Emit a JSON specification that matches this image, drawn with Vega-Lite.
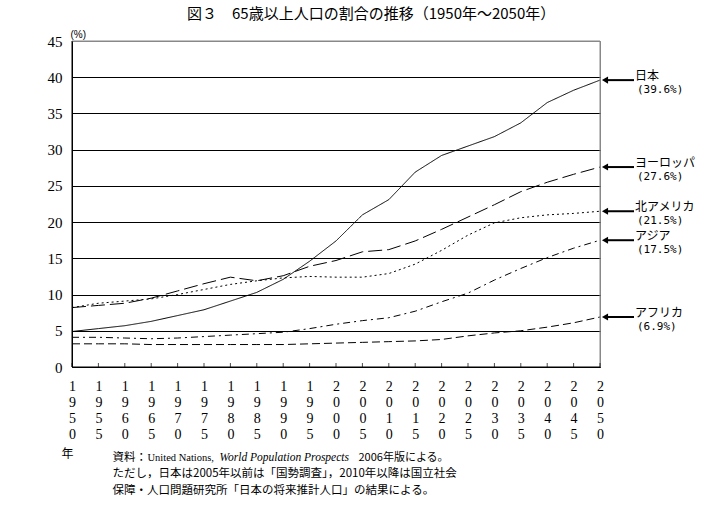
{
  "$schema": "https://vega.github.io/schema/vega-lite/v6.json",
  "width": 528,
  "height": 326,
  "autosize": {"type": "none"},
  "padding": {"left": 72, "top": 41, "right": 111, "bottom": 144},
  "background": "white",
  "config": {"view": {"stroke": "#888888", "strokeWidth": 1}, "font": "Noto Sans CJK JP"},
  "title": {"text": "図３　65歳以上人口の割合の推移（1950年～2050年）", "anchor": "start", "frame": "group", "dx": 115, "fontSize": 15, "fontWeight": "normal", "font": "Noto Sans CJK JP", "offset": 7, "color": "black"},
  "datasets": {
    "series": [
      {"region": "日本", "year": 1950, "value": 4.9}, {"region": "日本", "year": 1955, "value": 5.3}, {"region": "日本", "year": 1960, "value": 5.7}, {"region": "日本", "year": 1965, "value": 6.3}, {"region": "日本", "year": 1970, "value": 7.1}, {"region": "日本", "year": 1975, "value": 7.9}, {"region": "日本", "year": 1980, "value": 9.1}, {"region": "日本", "year": 1985, "value": 10.3}, {"region": "日本", "year": 1990, "value": 12.1}, {"region": "日本", "year": 1995, "value": 14.6}, {"region": "日本", "year": 2000, "value": 17.4}, {"region": "日本", "year": 2005, "value": 21.0}, {"region": "日本", "year": 2010, "value": 23.1}, {"region": "日本", "year": 2015, "value": 26.9}, {"region": "日本", "year": 2020, "value": 29.2}, {"region": "日本", "year": 2025, "value": 30.5}, {"region": "日本", "year": 2030, "value": 31.8}, {"region": "日本", "year": 2035, "value": 33.7}, {"region": "日本", "year": 2040, "value": 36.5}, {"region": "日本", "year": 2045, "value": 38.2}, {"region": "日本", "year": 2050, "value": 39.6},
      {"region": "ヨーロッパ", "year": 1950, "value": 8.2}, {"region": "ヨーロッパ", "year": 1955, "value": 8.5}, {"region": "ヨーロッパ", "year": 1960, "value": 8.8}, {"region": "ヨーロッパ", "year": 1965, "value": 9.5}, {"region": "ヨーロッパ", "year": 1970, "value": 10.5}, {"region": "ヨーロッパ", "year": 1975, "value": 11.5}, {"region": "ヨーロッパ", "year": 1980, "value": 12.4}, {"region": "ヨーロッパ", "year": 1985, "value": 11.9}, {"region": "ヨーロッパ", "year": 1990, "value": 12.6}, {"region": "ヨーロッパ", "year": 1995, "value": 13.9}, {"region": "ヨーロッパ", "year": 2000, "value": 14.7}, {"region": "ヨーロッパ", "year": 2005, "value": 15.9}, {"region": "ヨーロッパ", "year": 2010, "value": 16.2}, {"region": "ヨーロッパ", "year": 2015, "value": 17.4}, {"region": "ヨーロッパ", "year": 2020, "value": 19.0}, {"region": "ヨーロッパ", "year": 2025, "value": 20.7}, {"region": "ヨーロッパ", "year": 2030, "value": 22.4}, {"region": "ヨーロッパ", "year": 2035, "value": 24.2}, {"region": "ヨーロッパ", "year": 2040, "value": 25.5}, {"region": "ヨーロッパ", "year": 2045, "value": 26.6}, {"region": "ヨーロッパ", "year": 2050, "value": 27.6},
      {"region": "北アメリカ", "year": 1950, "value": 8.2}, {"region": "北アメリカ", "year": 1955, "value": 8.8}, {"region": "北アメリカ", "year": 1960, "value": 9.1}, {"region": "北アメリカ", "year": 1965, "value": 9.4}, {"region": "北アメリカ", "year": 1970, "value": 10.0}, {"region": "北アメリカ", "year": 1975, "value": 10.7}, {"region": "北アメリカ", "year": 1980, "value": 11.4}, {"region": "北アメリカ", "year": 1985, "value": 11.9}, {"region": "北アメリカ", "year": 1990, "value": 12.3}, {"region": "北アメリカ", "year": 1995, "value": 12.5}, {"region": "北アメリカ", "year": 2000, "value": 12.4}, {"region": "北アメリカ", "year": 2005, "value": 12.4}, {"region": "北アメリカ", "year": 2010, "value": 12.9}, {"region": "北アメリカ", "year": 2015, "value": 14.2}, {"region": "北アメリカ", "year": 2020, "value": 16.1}, {"region": "北アメリカ", "year": 2025, "value": 18.2}, {"region": "北アメリカ", "year": 2030, "value": 19.9}, {"region": "北アメリカ", "year": 2035, "value": 20.6}, {"region": "北アメリカ", "year": 2040, "value": 21.0}, {"region": "北アメリカ", "year": 2045, "value": 21.2}, {"region": "北アメリカ", "year": 2050, "value": 21.5},
      {"region": "アジア", "year": 1950, "value": 4.1}, {"region": "アジア", "year": 1955, "value": 4.1}, {"region": "アジア", "year": 1960, "value": 4.0}, {"region": "アジア", "year": 1965, "value": 3.9}, {"region": "アジア", "year": 1970, "value": 4.0}, {"region": "アジア", "year": 1975, "value": 4.2}, {"region": "アジア", "year": 1980, "value": 4.4}, {"region": "アジア", "year": 1985, "value": 4.6}, {"region": "アジア", "year": 1990, "value": 4.8}, {"region": "アジア", "year": 1995, "value": 5.3}, {"region": "アジア", "year": 2000, "value": 5.9}, {"region": "アジア", "year": 2005, "value": 6.4}, {"region": "アジア", "year": 2010, "value": 6.8}, {"region": "アジア", "year": 2015, "value": 7.7}, {"region": "アジア", "year": 2020, "value": 9.0}, {"region": "アジア", "year": 2025, "value": 10.2}, {"region": "アジア", "year": 2030, "value": 12.0}, {"region": "アジア", "year": 2035, "value": 13.6}, {"region": "アジア", "year": 2040, "value": 15.1}, {"region": "アジア", "year": 2045, "value": 16.4}, {"region": "アジア", "year": 2050, "value": 17.5},
      {"region": "アフリカ", "year": 1950, "value": 3.2}, {"region": "アフリカ", "year": 1955, "value": 3.2}, {"region": "アフリカ", "year": 1960, "value": 3.2}, {"region": "アフリカ", "year": 1965, "value": 3.1}, {"region": "アフリカ", "year": 1970, "value": 3.1}, {"region": "アフリカ", "year": 1975, "value": 3.1}, {"region": "アフリカ", "year": 1980, "value": 3.1}, {"region": "アフリカ", "year": 1985, "value": 3.1}, {"region": "アフリカ", "year": 1990, "value": 3.1}, {"region": "アフリカ", "year": 1995, "value": 3.2}, {"region": "アフリカ", "year": 2000, "value": 3.3}, {"region": "アフリカ", "year": 2005, "value": 3.4}, {"region": "アフリカ", "year": 2010, "value": 3.5}, {"region": "アフリカ", "year": 2015, "value": 3.6}, {"region": "アフリカ", "year": 2020, "value": 3.8}, {"region": "アフリカ", "year": 2025, "value": 4.3}, {"region": "アフリカ", "year": 2030, "value": 4.7}, {"region": "アフリカ", "year": 2035, "value": 5.0}, {"region": "アフリカ", "year": 2040, "value": 5.5}, {"region": "アフリカ", "year": 2045, "value": 6.1}, {"region": "アフリカ", "year": 2050, "value": 6.9}
    ],
    "ends": [
      {"name": "日本", "year": 2050, "value": 39.6, "pct": "(39.6%)"},
      {"name": "ヨーロッパ", "year": 2050, "value": 27.6, "pct": "(27.6%)"},
      {"name": "北アメリカ", "year": 2050, "value": 21.5, "pct": "(21.5%)"},
      {"name": "アジア", "year": 2050, "value": 17.5, "pct": "(17.5%)"},
      {"name": "アフリカ", "year": 2050, "value": 6.9, "pct": "(6.9%)"}
    ],
    "anchor": [{"year": 2000}]
  },
  "resolve": {"axis": {"x": "independent", "y": "independent"}},
  "layer": [
    {
      "data": {"name": "series"},
      "mark": {"type": "line", "color": "black", "strokeWidth": 1},
      "encoding": {
        "x": {"field": "year", "type": "quantitative", "scale": {"domain": [1950, 2050], "nice": false, "zero": false},
          "axis": {"orient": "bottom", "values": [1950,1955,1960,1965,1970,1975,1980,1985,1990,1995,2000,2005,2010,2015,2020,2025,2030,2035,2040,2045,2050], "format": "d", "labelExpr": "split(datum.label, '')", "labelLineHeight": 16.3, "labelFont": "Liberation Serif", "labelFontSize": 14, "labelColor": "black", "labelAngle": 0, "labelBaseline": "top", "labelAlign": "center", "labelPadding": 12, "labelFlush": false, "labelOverlap": false, "ticks": false, "domain": true, "domainColor": "black", "domainWidth": 1, "grid": false, "title": "年", "titleX": -5, "titleY": 86, "titleAlign": "center", "titleBaseline": "middle", "titleFont": "Noto Sans CJK JP", "titleFontSize": 12, "titleFontWeight": "normal", "titleColor": "black"}},
        "y": {"field": "value", "type": "quantitative", "scale": {"domain": [0, 45], "nice": false},
          "axis": {"orient": "left", "values": [0,5,10,15,20,25,30,35,40,45], "labelOverlap": false, "ticks": false, "domain": true, "domainColor": "black", "domainWidth": 1, "grid": true, "gridColor": {"condition": {"test": "datum.value >= 45", "value": "#888888"}, "value": "black"}, "gridWidth": 1, "gridOpacity": 1, "labelFont": "Liberation Serif", "labelFontSize": 15, "labelColor": "black", "labelPadding": 10, "title": "(%)", "titleAngle": 0, "titleX": -2, "titleY": -7, "titleAlign": "left", "titleBaseline": "middle", "titleFontSize": 10, "titleFontWeight": "normal", "titleFont": "Liberation Sans", "titleColor": "black"}},
        "strokeDash": {"field": "region", "type": "nominal", "scale": {"domain": ["日本", "ヨーロッパ", "北アメリカ", "アジア", "アフリカ"], "range": [[1, 0], [14, 5], [2, 3], [7, 4, 2, 4], [8, 4]]}, "legend": null}
      }
    },
    {
      "data": {"name": "anchor"},
      "mark": {"type": "rule", "color": "#888888", "strokeWidth": 1},
      "encoding": {"y": {"datum": 45, "type": "quantitative", "axis": null}}
    },
    {
      "data": {"name": "anchor"},
      "mark": {"type": "rule", "color": "#888888", "strokeWidth": 1},
      "encoding": {"x": {"datum": 2050, "type": "quantitative", "axis": null}}
    },
    {
      "data": {"name": "anchor"},
      "mark": {"type": "rule", "color": "black", "strokeWidth": 1},
      "encoding": {"y": {"datum": 0, "type": "quantitative", "axis": null}}
    },
    {
      "data": {"name": "anchor"},
      "mark": {"type": "rule", "color": "black", "strokeWidth": 1},
      "encoding": {"x": {"datum": 1950, "type": "quantitative", "axis": null}}
    },
    {
      "data": {"name": "series"},
      "transform": [{"filter": "datum.region == '日本'"}],
      "mark": {"type": "tick", "orient": "vertical", "color": "black", "size": 4, "thickness": 1, "yOffset": -2},
      "encoding": {
        "x": {"field": "year", "type": "quantitative", "axis": null},
        "y": {"datum": 0, "type": "quantitative", "axis": null}
      }
    },
    {
      "data": {"name": "ends"},
      "mark": {"type": "rule", "color": "black", "strokeWidth": 2, "xOffset": 6, "x2Offset": 34},
      "encoding": {
        "x": {"field": "year", "type": "quantitative", "axis": null},
        "x2": {"field": "year"},
        "y": {"field": "value", "type": "quantitative", "axis": null}
      }
    },
    {
      "data": {"name": "ends"},
      "mark": {"type": "point", "shape": "triangle-left", "filled": true, "color": "black", "size": 50, "xOffset": 5, "opacity": 1},
      "encoding": {
        "x": {"field": "year", "type": "quantitative", "axis": null},
        "y": {"field": "value", "type": "quantitative", "axis": null}
      }
    },
    {
      "data": {"name": "ends"},
      "mark": {"type": "text", "align": "left", "baseline": "middle", "dx": 35, "dy": -4, "fontSize": 12, "font": "Noto Sans CJK JP", "color": "black"},
      "encoding": {
        "x": {"field": "year", "type": "quantitative", "axis": null},
        "y": {"field": "value", "type": "quantitative", "axis": null},
        "text": {"field": "name"}
      }
    },
    {
      "data": {"name": "ends"},
      "mark": {"type": "text", "align": "left", "baseline": "middle", "dx": 37, "dy": 10, "fontSize": 11, "font": "DejaVu Sans Mono", "color": "black"},
      "encoding": {
        "x": {"field": "year", "type": "quantitative", "axis": null},
        "y": {"field": "value", "type": "quantitative", "axis": null},
        "text": {"field": "pct"}
      }
    },
    {
      "data": {"name": "anchor"},
      "mark": {"type": "rule", "opacity": 0},
      "encoding": {
        "x": {"field": "year", "type": "quantitative", "axis": {"orient": "bottom", "labels": false, "ticks": false, "domain": false, "grid": false, "title": ["資料：", "ただし，日本は2005年以前は「国勢調査」，2010年以降は国立社会", "保障・人口問題研究所「日本の将来推計人口」の結果による。"], "titleX": 40, "titleY": 93, "titleAlign": "left", "titleAnchor": "start", "titleBaseline": "alphabetic", "titleLineHeight": 16.5, "titleFont": "Noto Sans CJK JP", "titleFontSize": 11.5, "titleFontWeight": "normal", "titleColor": "black"}}
      }
    },
    {
      "data": {"name": "anchor"},
      "mark": {"type": "rule", "opacity": 0},
      "encoding": {
        "x": {"field": "year", "type": "quantitative", "axis": {"orient": "bottom", "labels": false, "ticks": false, "domain": false, "grid": false, "title": "United Nations,", "titleX": 75, "titleY": 93, "titleAlign": "left", "titleAnchor": "start", "titleBaseline": "alphabetic", "titleFont": "Liberation Serif", "titleFontSize": 10.5, "titleFontWeight": "normal", "titleColor": "black"}}
      }
    },
    {
      "data": {"name": "anchor"},
      "mark": {"type": "rule", "opacity": 0},
      "encoding": {
        "x": {"field": "year", "type": "quantitative", "axis": {"orient": "bottom", "labels": false, "ticks": false, "domain": false, "grid": false, "title": "World Population Prospects", "titleX": 147, "titleY": 93, "titleAlign": "left", "titleAnchor": "start", "titleBaseline": "alphabetic", "titleFont": "Liberation Serif", "titleFontSize": 11.5, "titleFontStyle": "italic", "titleFontWeight": "normal", "titleColor": "black"}}
      }
    },
    {
      "data": {"name": "anchor"},
      "mark": {"type": "rule", "opacity": 0},
      "encoding": {
        "x": {"field": "year", "type": "quantitative", "axis": {"orient": "bottom", "labels": false, "ticks": false, "domain": false, "grid": false, "title": "2006年版による。", "titleX": 286, "titleY": 93, "titleAlign": "left", "titleAnchor": "start", "titleBaseline": "alphabetic", "titleFont": "Noto Sans CJK JP", "titleFontSize": 11, "titleFontWeight": "normal", "titleColor": "black"}}
      }
    }
  ]
}
